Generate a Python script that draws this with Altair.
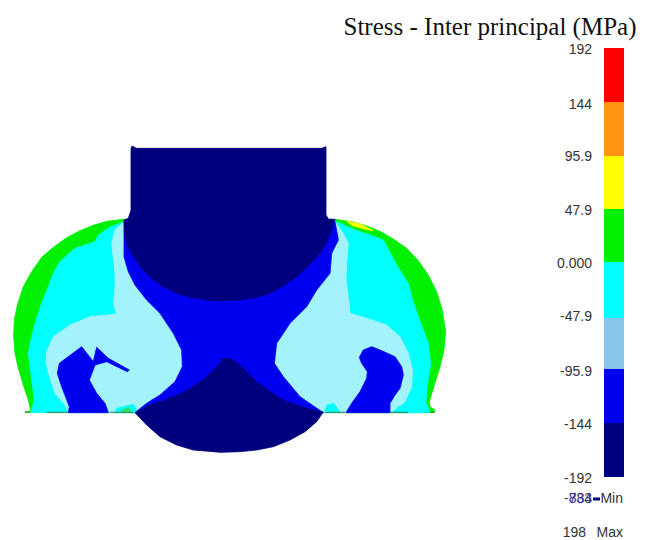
import altair as alt
import pandas as pd

LEFT_ORIGIN = (0, 140)
RIGHT_ORIGIN = (220, 140)

left_dome = [(75,816),(92,812),(85,780),(70,735),(55,685),(45,640),(41,590),(43,540),(52,495),(70,440),(95,395),(125,352),(160,322),(200,293),(240,272),(280,256),(320,244),(370,238),(392,238),(405,818)]
right_dome = [(345,238),(400,246),(440,258),(480,274),(520,297),(560,325),(595,362),(625,405),(650,455),(667,510),(677,575),(672,630),(660,680),(643,735),(628,785),(630,800),(645,810),(640,818),(310,818)]
left_cyan = [(92,818),(103,780),(95,720),(85,640),(95,590),(108,540),(125,490),(145,440),(160,400),(180,365),(225,325),(285,305),(295,285),(330,262),(372,245),(400,500),(405,818)]
right_cyan = [(350,245),(400,268),(450,285),(490,300),(530,375),(565,430),(575,470),(595,530),(625,610),(632,670),(620,750),(618,785),(630,818),(310,818)]
right_yellow = [(380,243),(420,252),(460,272),(430,266),(395,256)]
left_light = [(205,818),(195,795),(165,760),(150,715),(138,670),(140,635),(160,590),(210,555),(270,530),(350,522),(340,490),(345,445),(345,400),(335,310),(345,270),(372,245),(372,350),(385,395),(405,435),(440,480),(480,520),(520,580),(545,630),(547,680),(525,725),(480,765),(440,790),(405,818)]
right_light = [(345,245),(370,280),(385,310),(380,370),(378,420),(385,470),(390,520),(440,535),(500,555),(540,590),(565,640),(578,690),(575,740),(555,785),(530,805),(510,818),(310,818),(240,770),(190,710),(163,670),(170,610),(210,550),(260,500),(290,450),(330,400),(335,340),(355,300)]
left_patch = [(345,818),(350,805),(400,793),(410,810),(405,818)]
left_patch_core = [(362,812),(385,802),(395,816),(372,818)]
right_patch = [(315,818),(320,795),(340,790),(360,815)]
right_patch2 = [(527,818),(535,800),(558,798),(568,818)]
left_island = [(205,818),(208,800),(185,740),(172,700),(178,670),(245,620),(280,665),(290,622),(325,655),(388,690),(382,695),(320,665),(285,675),(268,720),(290,760),(315,790),(325,818)]
right_island = [(378,818),(395,790),(420,755),(440,715),(442,695),(425,670),(418,652),(430,630),(455,620),(480,630),(525,650),(545,680),(550,705),(540,745),(525,765),(510,790),(510,818)]
center_left = [(372,245),(372,350),(385,395),(405,435),(440,480),(480,520),(520,580),(545,630),(547,680),(525,725),(480,765),(440,790),(405,818)]
center_right = [(310,818),(240,770),(190,710),(163,670),(170,610),(210,550),(260,500),(290,450),(330,400),(335,340),(355,300),(345,245)]
stem_left = [(372,240),(385,235),(393,210),(393,25),(396,18),(410,25)]
stem_bowl_left = [(620,480),(570,472),(530,460),(490,440),(455,415),(425,385),(400,350),(385,320),(375,290)]
stem_right = [(305,25),(318,20),(318,225),(325,237),(345,238),(335,270),(320,305),(300,340),(265,378),(230,410),(195,435),(150,460),(110,472),(60,480),(0,483)]
lower_left = [(405,818),(450,795),(500,778),(545,760),(585,737),(620,710),(650,680),(665,665)]
lower_right = [(5,657),(25,655),(45,663),(60,675),(80,695),(110,725),(150,755),(200,785),(260,805),(310,816),(290,845),(255,875),(210,900),(160,920),(110,930),(60,935),(0,937)]
lower_bottom_left = [(640,935),(580,930),(530,915),(480,890),(440,855)]

rule_left = [(75,90),(140,205),(330,400)]
rule_right = [(315,375),(510,565),(630,645)]

band_colors = ["#ff0000","#ff9312","#ffff00","#00f000","#00ffff","#87c8e8","#0000f0","#00007f"]
band_edges = [48,102,156,209,262,318,369,423,477]
tick_labels = ["192","144","95.9","47.9","0.000","-47.9","-95.9","-144","-192"]
tick_y = [50,105,157,211,264,317,372,425,479]

NAVY, BLUE, LIGHT, CYAN, GREEN, YELLOW = "#00007f","#0000f0","#a2f3fc","#00ffff","#00f000","#ffff00"

def conv(points, origin):
    return [(origin[0] + x / 3, origin[1] + y / 3) for x, y in points]

L = lambda p: conv(p, LEFT_ORIGIN)
R = lambda p: conv(p, RIGHT_ORIGIN)

polygons = [
    (L(left_dome), GREEN), (R(right_dome), GREEN),
    (R(right_yellow), YELLOW),
    (L(left_cyan), CYAN), (R(right_cyan), CYAN),
    (L(left_light), LIGHT), (R(right_light), LIGHT),
    (L(left_patch), CYAN), (L(left_patch_core), "#30e070"),
    (R(right_patch), CYAN), (R(right_patch2), CYAN),
    (L(left_island), BLUE), (R(right_island), BLUE),
    (L(center_left) + R(center_right), BLUE),
    (L(stem_left) + R(stem_right) + L(stem_bowl_left), NAVY),
    (L(lower_left) + R(lower_right) + L(lower_bottom_left), NAVY),
]

W, H = 629, 532
xs = alt.Scale(domain=[8, 8 + W], nice=False, zero=False)
ys = alt.Scale(domain=[8 + H, 8], nice=False, zero=False)
X = lambda f: alt.X(f, type="quantitative", scale=xs, axis=None)
Y = lambda f: alt.Y(f, type="quantitative", scale=ys, axis=None)

layers = []
for pts, col in polygons:
    df = pd.DataFrame({"x": [p[0] for p in pts], "y": [p[1] for p in pts], "i": range(len(pts))})
    layers.append(
        alt.Chart(df).mark_line(fill=col, stroke=col, strokeWidth=0.8, interpolate="linear-closed")
        .encode(x=X("x"), y=Y("y"), order=alt.Order("i:Q"))
    )

base_df = pd.DataFrame(
    [{"x": LEFT_ORIGIN[0] + a / 3, "x2": LEFT_ORIGIN[0] + b / 3, "y": 412.3} for a, b in rule_left]
    + [{"x": RIGHT_ORIGIN[0] + a / 3, "x2": RIGHT_ORIGIN[0] + b / 3, "y": 412.3} for a, b in rule_right]
)
layers.append(alt.Chart(base_df).mark_rule(color="#3c7a50", strokeWidth=1).encode(x=X("x"), x2="x2", y=Y("y")))

bars = pd.DataFrame({"y": band_edges[:-1], "y2": band_edges[1:], "c": band_colors, "x": [604] * 8, "x2": [624] * 8})
layers.append(
    alt.Chart(bars).mark_rect().encode(
        x=X("x"), x2="x2", y=Y("y"), y2="y2", color=alt.Color("c:N", scale=None)
    )
)

ticks = pd.DataFrame({"x": [592] * 9, "y": tick_y, "t": tick_labels})
layers.append(
    alt.Chart(ticks).mark_text(align="right", baseline="middle", font="Liberation Sans", fontSize=14, color="#333333")
    .encode(x=X("x"), y=Y("y"), text="t:N")
)

title_df = pd.DataFrame({"x": [636.5], "y": [27], "t": ["Stress - Inter principal (MPa)"]})
layers.append(
    alt.Chart(title_df).mark_text(align="right", baseline="middle", font="Liberation Serif", fontSize=25, color="#111111")
    .encode(x=X("x"), y=Y("y"), text="t:N")
)

min_texts = pd.DataFrame({"x": [592], "y": [499], "t": ["-783"]})
min_blue = pd.DataFrame({"x": [592], "y": [499], "t": ["834"]})
max_val = pd.DataFrame({"x": [586], "y": [533], "t": ["198"]})
min_lab = pd.DataFrame({"x": [623, 623], "y": [499, 533], "t": ["Min", "Max"]})
for d, c in [(min_texts, "#444444"), (min_blue, "#3030a0"), (max_val, "#333333"), (min_lab, "#333333")]:
    layers.append(
        alt.Chart(d).mark_text(align="right", baseline="middle", font="Liberation Sans", fontSize=14, color=c)
        .encode(x=X("x"), y=Y("y"), text="t:N")
    )
marker = pd.DataFrame({"x": [593], "x2": [600], "y": [499]})
layers.append(alt.Chart(marker).mark_rule(color="#00007f", strokeWidth=3).encode(x=X("x"), x2="x2", y=Y("y")))

chart = alt.layer(*layers).properties(
    width=W, height=H, padding=0, autosize=alt.AutoSizeParams(type="none")
).configure_view(stroke=None)

chart.save("out.html", embed_options={"renderer": "svg", "actions": False})
